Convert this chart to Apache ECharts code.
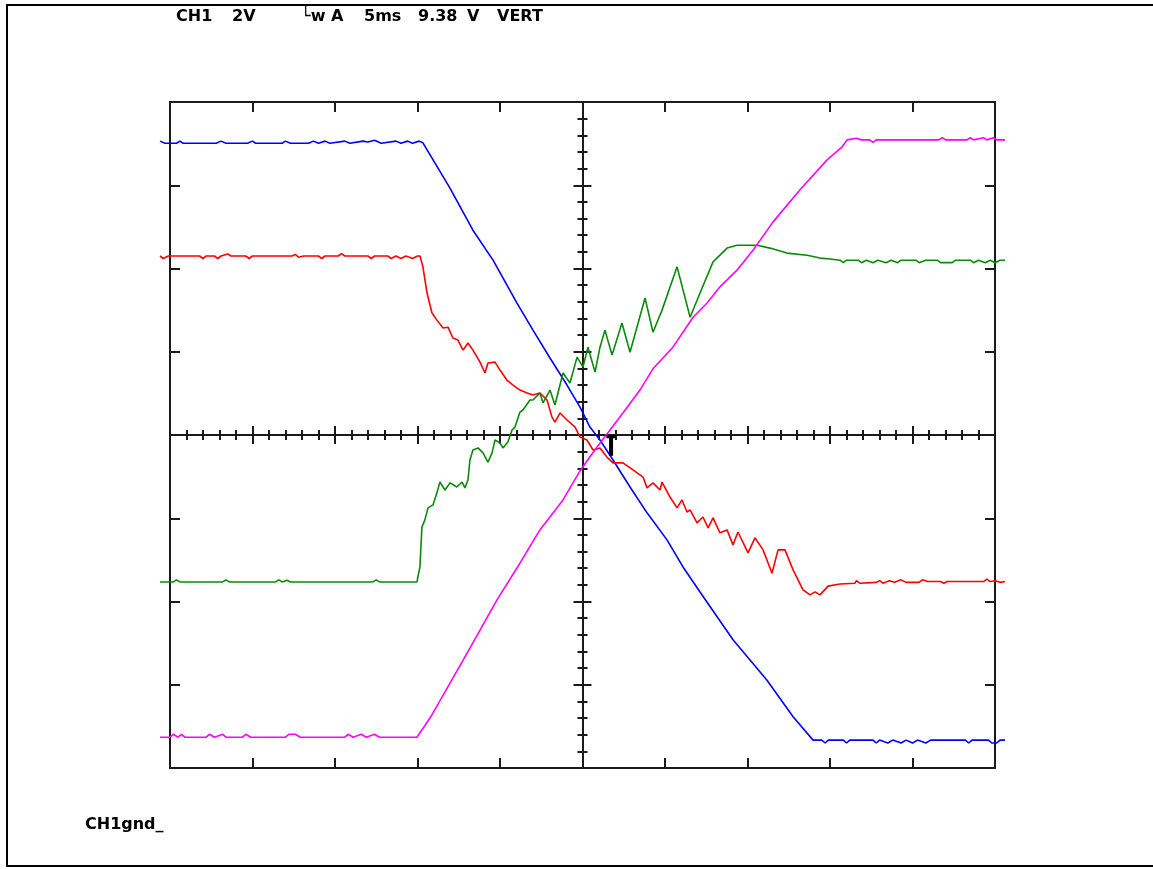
<!DOCTYPE html>
<html>
<head>
<meta charset="utf-8">
<script src="https://cdn.jsdelivr.net/npm/echarts@6/dist/echarts.min.js"></script>
<style>html,body{margin:0;padding:0;background:#fff}#c{width:1153px;height:869px}</style>
</head>
<body>
<div id="c"></div>
<script>
// time in ms (5 ms/div), voltage in V (2 V/div)
const blueData = [
 [-25.6,7.06],[-25.3,7.01],[-24.6,7.01],[-24.4,7.06],[-24.2,7.01],[-22.2,7.01],[-21.9,7.06],[-21.6,7.01],
 [-20.3,7.01],[-20.0,7.06],[-19.8,7.01],[-18.2,7.01],[-18.0,7.06],[-17.7,7.01],[-16.6,7.01],[-16.3,7.06],
 [-16.0,7.01],[-15.6,7.06],[-15.3,7.01],[-14.4,7.06],[-14.1,7.01],[-13.3,7.06],[-13.0,7.04],[-12.6,7.08],
 [-12.2,7.01],[-11.3,7.06],[-11.0,7.01],[-10.6,7.06],[-10.3,7.01],[-9.9,7.06],[-9.67,7.02],
 [-8.03,5.93],[-6.64,4.92],[-5.42,4.20],[-3.97,3.17],[-3.00,2.52],[-1.97,1.85],[-0.94,1.20],[-0.15,0.67],
 [0.45,0.19],[1.06,-0.12],[1.85,-0.60],[2.88,-1.25],[3.91,-1.87],[5.12,-2.52],[6.09,-3.17],[7.12,-3.77],
 [9.12,-4.92],[11.18,-5.89],[12.76,-6.77],[13.97,-7.33],
 [14.5,-7.33],[14.7,-7.40],[14.9,-7.33],[15.8,-7.33],[16.0,-7.40],[16.2,-7.33],[17.6,-7.33],[17.8,-7.40],
 [18.0,-7.33],[18.5,-7.40],[18.8,-7.33],[19.3,-7.40],[19.6,-7.33],[20.0,-7.40],[20.3,-7.33],[20.8,-7.40],
 [21.1,-7.33],[23.2,-7.33],[23.4,-7.40],[23.6,-7.33],[24.6,-7.33],[24.8,-7.40],[25.1,-7.40],[25.3,-7.33],[25.6,-7.33]
];
const magentaData = [
 [-25.6,-7.26],[-25.0,-7.26],[-24.8,-7.19],[-24.5,-7.26],[-24.3,-7.19],[-24.1,-7.26],[-22.8,-7.26],[-22.6,-7.19],
 [-22.3,-7.26],[-21.8,-7.19],[-21.6,-7.26],[-20.6,-7.26],[-20.4,-7.19],[-20.1,-7.26],[-18.0,-7.26],[-17.8,-7.19],
 [-17.4,-7.19],[-17.1,-7.26],[-14.4,-7.26],[-14.2,-7.19],[-13.9,-7.26],[-13.4,-7.19],[-13.1,-7.26],[-12.6,-7.19],
 [-12.3,-7.26],[-10.03,-7.26],
 [-9.24,-6.80],[-8.33,-6.17],[-6.82,-5.12],[-5.18,-3.96],[-3.79,-3.08],[-2.58,-2.28],[-1.18,-1.56],[-0.15,-0.86],
 [0.88,-0.29],[1.67,0.12],[2.45,0.53],[3.48,1.08],[4.27,1.59],[5.48,2.11],[6.70,2.83],[7.55,3.17],[8.33,3.56],
 [9.36,3.96],[10.33,4.44],[11.55,5.12],[13.18,5.89],[14.82,6.61],[15.73,6.92],[16.03,7.09],
 [16.6,7.13],[16.9,7.09],[17.4,7.09],[17.6,7.03],[17.8,7.09],[21.6,7.09],[21.8,7.14],[22.0,7.09],[23.3,7.09],
 [23.5,7.14],[23.7,7.09],[24.3,7.14],[24.5,7.09],[24.9,7.14],[25.1,7.09],[25.6,7.09]
];
const redData = [
 [-25.6,4.30],[-25.4,4.24],[-25.1,4.30],[-23.2,4.30],[-23.0,4.24],[-22.8,4.30],[-22.3,4.30],[-22.1,4.24],
 [-21.9,4.30],[-21.5,4.35],[-21.3,4.30],[-20.4,4.30],[-20.2,4.24],[-20.0,4.30],[-17.6,4.30],[-17.4,4.34],
 [-17.2,4.27],[-16.9,4.30],[-16.0,4.30],[-15.8,4.24],[-15.6,4.30],[-14.8,4.30],[-14.6,4.36],[-14.4,4.30],
 [-13.0,4.30],[-12.8,4.24],[-12.6,4.30],[-11.8,4.30],[-11.6,4.24],[-11.3,4.30],[-11.0,4.24],[-10.7,4.30],
 [-10.3,4.24],[-10.0,4.30],[-9.85,4.30],
 [-9.67,4.04],[-9.42,3.41],[-9.12,2.93],[-8.82,2.76],[-8.45,2.57],[-8.15,2.59],[-7.85,2.33],[-7.55,2.28],
 [-7.24,2.04],[-6.94,2.21],[-6.64,2.04],[-6.21,1.75],[-5.91,1.49],[-5.73,1.73],[-5.30,1.75],[-5.00,1.56],
 [-4.58,1.32],[-4.21,1.20],[-3.79,1.08],[-3.36,1.01],[-3.00,0.96],[-2.58,1.01],[-2.15,0.84],[-1.85,0.43],
 [-1.67,0.31],[-1.36,0.53],[-0.94,0.36],[-0.45,0.19],[-0.15,-0.05],[0.27,-0.12],[0.64,-0.36],[1.06,-0.31],
 [1.48,-0.53],[1.85,-0.67],[2.45,-0.67],[3.06,-0.84],[3.67,-1.01],[3.91,-1.27],[4.27,-1.15],[4.70,-1.32],
 [4.82,-1.13],[5.30,-1.49],[5.73,-1.75],[6.03,-1.56],[6.33,-1.85],[6.52,-1.80],[6.94,-2.11],[7.30,-1.97],
 [7.61,-2.23],[7.91,-1.99],[8.33,-2.35],[8.76,-2.28],[9.12,-2.64],[9.42,-2.33],[10.03,-2.83],[10.45,-2.47],
 [10.94,-2.76],[11.48,-3.32],[11.85,-2.76],[12.27,-2.76],[12.76,-3.24],[13.36,-3.72],[13.79,-3.84],
 [14.09,-3.77],[14.39,-3.84],[14.88,-3.63],[15.61,-3.58],
 [16.5,-3.56],[16.6,-3.50],[16.8,-3.56],[17.8,-3.54],[18.0,-3.50],[18.2,-3.56],[18.6,-3.50],[18.9,-3.54],
 [19.3,-3.48],[19.6,-3.54],[20.4,-3.54],[20.6,-3.48],[20.9,-3.52],[21.7,-3.52],[21.9,-3.56],[22.1,-3.52],
 [24.3,-3.52],[24.5,-3.46],[24.7,-3.52],[25.0,-3.50],[25.3,-3.54],[25.6,-3.52]
];
const greenData = [
 [-25.6,-3.53],[-24.8,-3.53],[-24.6,-3.48],[-24.4,-3.53],[-21.8,-3.53],[-21.6,-3.48],[-21.4,-3.53],[-18.6,-3.53],
 [-18.4,-3.48],[-18.2,-3.53],[-17.9,-3.49],[-17.7,-3.53],[-12.7,-3.53],[-12.5,-3.48],[-12.3,-3.53],[-10.03,-3.53],
 [-9.85,-3.17],[-9.73,-2.21],[-9.55,-2.04],[-9.36,-1.75],[-9.06,-1.68],[-8.82,-1.39],[-8.64,-1.13],[-8.33,-1.32],
 [-8.03,-1.15],[-7.61,-1.25],[-7.30,-1.13],[-7.12,-1.27],[-6.94,-1.08],[-6.82,-0.60],[-6.64,-0.36],[-6.33,-0.31],
 [-6.03,-0.43],[-5.73,-0.65],[-5.48,-0.43],[-5.30,-0.12],[-5.00,-0.19],[-4.82,-0.31],[-4.52,-0.17],[-4.27,0.12],
 [-4.09,0.19],[-3.79,0.55],[-3.61,0.60],[-3.18,0.84],[-3.00,0.84],[-2.58,1.01],[-2.39,0.77],[-1.97,1.08],
 [-1.67,0.72],[-1.18,1.49],[-0.76,1.25],[-0.33,1.87],[0.03,1.63],[0.33,2.11],[0.76,1.51],[1.06,2.11],
 [1.36,2.52],[1.79,1.92],[2.39,2.69],[2.88,1.99],[3.79,3.29],[4.27,2.47],[4.82,3.00],[5.73,4.04],[6.52,2.83],
 [7.12,3.41],[7.91,4.16],[8.76,4.49],[9.36,4.56],[9.97,4.56],[10.58,4.56],[11.36,4.49],[12.39,4.37],
 [13.61,4.32],[14.39,4.25],[15.0,4.23],
 [15.6,4.20],[15.8,4.14],[16.0,4.20],[16.7,4.20],[16.9,4.14],[17.2,4.20],[17.6,4.14],[17.9,4.20],[18.4,4.14],
 [18.7,4.20],[19.1,4.14],[19.3,4.20],[20.2,4.20],[20.4,4.14],[20.8,4.20],[21.5,4.20],[21.7,4.14],[22.4,4.14],
 [22.6,4.20],[23.5,4.20],[23.7,4.14],[24.0,4.20],[24.4,4.14],[24.7,4.20],[25.0,4.14],[25.3,4.20],[25.6,4.20]
];
const triggerStem = [[1.73,0],[1.73,-0.5]];
const triggerBar = [[1.45,-0.04],[2.0,-0.04]];

const headerTexts = ['CH1','2V','\u2514w','A','5ms','9.38','V','VERT'];
const footerText = 'CH1gnd_';

const AX = '#1a1a1a';
function frameAxis(pos, extra) {
  return Object.assign({
    type:'value', gridIndex:0, position:pos, min: (pos==='top'||pos==='bottom')?-25:-8,
    max:(pos==='top'||pos==='bottom')?25:8, interval:(pos==='top'||pos==='bottom')?5:2,
    axisLine:{show:true,onZero:false,lineStyle:{color:AX,width:2}},
    axisTick:{show:true,inside:true,length:10,lineStyle:{color:AX,width:2}},
    axisLabel:{show:false}, splitLine:{show:false}
  }, extra||{});
}
function centerAxis(pos, isX) {
  return {
    type:'value', gridIndex:0, position:pos, min:isX?-25:-8, max:isX?25:8, interval:isX?5:2,
    axisLine:{show:true,onZero:true,onZeroAxisIndex:0,lineStyle:{color:AX,width:2}},
    axisTick:{show:true,inside:false,length:9,lineStyle:{color:AX,width:2}},
    minorTick:{show:true,splitNumber:5,length:5,lineStyle:{color:AX,width:2}},
    axisLabel:{show:false}, splitLine:{show:false}, minorSplitLine:{show:false}
  };
}
const hiddenAxis = (isX)=>({type:'value',gridIndex:1,min:isX?-25.6:-8,max:isX?25.6:8,show:false,
  axisLine:{show:false},axisTick:{show:false},axisLabel:{show:false},splitLine:{show:false}});

function trace(data,color){
  return {type:'line',xAxisIndex:4,yAxisIndex:4,data:data,showSymbol:false,symbol:'none',
    lineStyle:{color:color,width:1.6},z:5,animation:false};
}

const chart = echarts.init(document.getElementById('c'),null,{renderer:'canvas'});
const F = 'bold 16px "DejaVu Sans", sans-serif';
const headerX = [176,232,301,331,364,418,467,497];
chart.setOption({
  animation:false,
  backgroundColor:'#fff',
  grid:[
    {left:170,top:102,width:825,height:666,outerBoundsMode:'none',containLabel:false},
    {left:160,top:102,width:845,height:666,outerBoundsMode:'none',containLabel:false}
  ],
  xAxis:[frameAxis('bottom'),frameAxis('top'),centerAxis('bottom',true),centerAxis('top',true),hiddenAxis(true)],
  yAxis:[frameAxis('left'),frameAxis('right'),centerAxis('left',false),centerAxis('right',false),hiddenAxis(false)],
  series:[
    trace(blueData,'#0000ff'),
    trace(redData,'#ff0000'),
    trace(greenData,'#0a8a0a'),
    trace(magentaData,'#ff00ff'),
    {type:'line',xAxisIndex:4,yAxisIndex:4,data:triggerStem,symbol:'none',lineStyle:{color:'#000',width:4},z:6},
    {type:'line',xAxisIndex:4,yAxisIndex:4,data:triggerBar,symbol:'none',lineStyle:{color:'#000',width:3},z:6}
  ],
  graphic:[
    {type:'rect',shape:{x:7,y:5,width:1170,height:861},style:{fill:null,stroke:'#000',lineWidth:2},silent:true},
    ...headerTexts.map((t,i)=>({type:'text',x:headerX[i],y:9,style:{text:t,font:F,fill:'#000'}})),
    {type:'text',x:85,y:817,style:{text:footerText,font:F,fill:'#000'}}
  ]
});
</script>
</body>
</html>
